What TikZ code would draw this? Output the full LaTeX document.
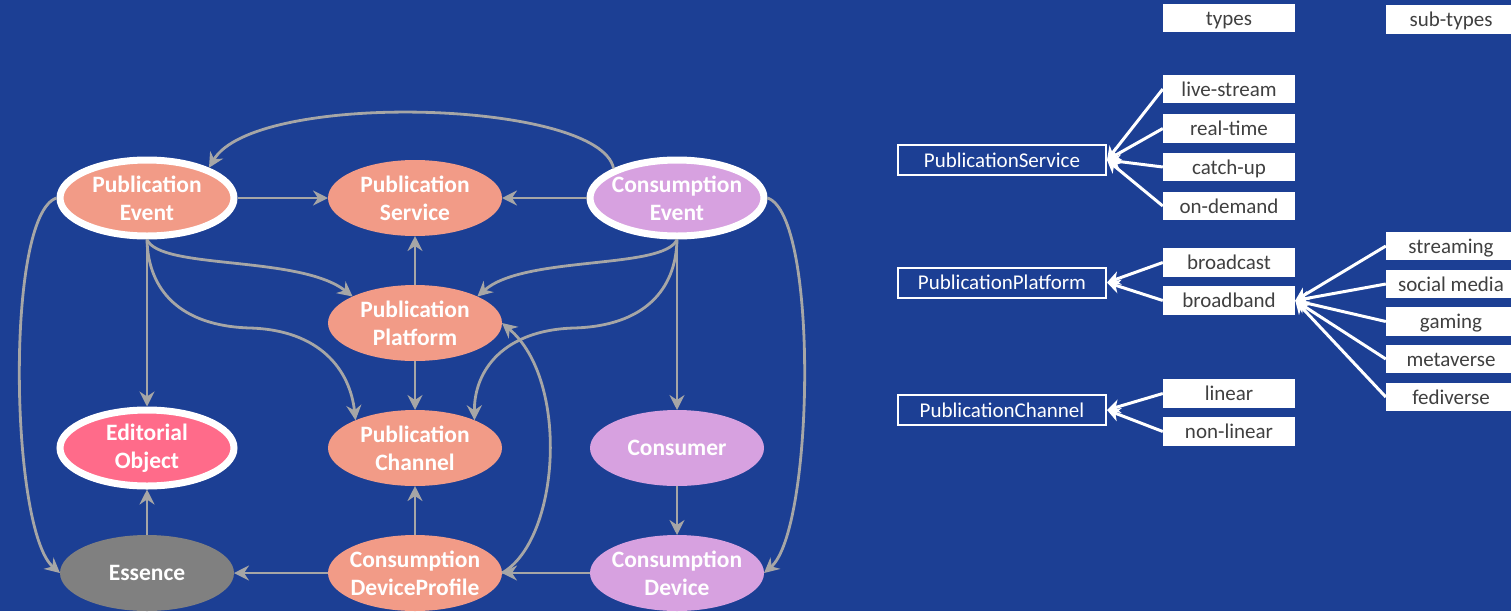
\documentclass[tikz,border=0pt]{standalone}
\usepackage{fontspec}
\setmainfont{Carlito}
\usetikzlibrary{arrows.meta,shapes.geometric}
\definecolor{bg}{RGB}{28,63,148}
\definecolor{salmon}{RGB}{242,155,135}
\definecolor{lav}{RGB}{215,161,224}
\definecolor{pinkc}{RGB}{255,107,138}
\definecolor{grayc}{RGB}{128,128,128}
\definecolor{edgec}{RGB}{166,166,166}
\definecolor{txtc}{RGB}{64,64,64}
\tikzset{
 ent/.style={ellipse, minimum width=174pt, minimum height=76pt, inner xsep=-25pt, inner ysep=-8pt, outer sep=0pt, text=white, align=center, font=\bfseries\fontsize{23.5}{28}\selectfont},
 ring/.style={draw=white, line width=7pt, outer sep=3.5pt},
 rel/.style={draw=edgec, line width=2.8pt, -{Stealth[length=15pt,width=15pt,inset=5pt]}},
 tbox/.style={fill=white, minimum width=132pt, minimum height=28.5pt, inner sep=0pt, text height=18pt, text depth=4pt, text=txtc, font=\fontsize{21}{24}\selectfont},
 sbox/.style={tbox, minimum width=130pt},
 cbox/.style={draw=white, line width=2pt, minimum width=208pt, minimum height=30pt, inner sep=0pt, text height=18pt, text depth=4pt, text=white, font=\fontsize{21}{24}\selectfont},
 warr/.style={draw=white, line width=3pt, -{Stealth[length=13pt,width=14pt,inset=4pt]}},
}
\begin{document}
\begin{tikzpicture}[x=1pt,y=1pt]
\fill[bg] (0,0) rectangle (1511,-611);
\useasboundingbox (0,0) rectangle (1511,-611);
% entities
\node[ent,ring,fill=salmon] (pe) at (147,-198) {Publication\\Event};
\node[ent,fill=salmon] (ps) at (415,-198) {Publication\\Service};
\node[ent,ring,fill=lav] (ce) at (677,-198) {Consumption\\Event};
\node[ent,fill=salmon] (pp) at (415,-323) {Publication\\Platform};
\node[ent,ring,fill=pinkc] (eo) at (147,-448) {Editorial\\Object};
\node[ent,fill=salmon] (pc) at (415,-448) {Publication\\Channel};
\node[ent,fill=lav] (cons) at (677,-448) {Consumer};
\node[ent,fill=grayc] (ess) at (147,-573) {Essence};
\node[ent,fill=salmon] (cdp) at (415,-573) {Consumption\\DeviceProfile};
\node[ent,fill=lav] (cd) at (677,-573) {Consumption\\Device};
% relations
\draw[rel] (ce.155) .. controls (600,-100) and (255,-90) .. (pe.26);
\draw[rel] (pe) -- (ps);
\draw[rel] (ce) -- (ps);
\draw[rel] (pp) -- (ps);
\draw[rel] (pe) -- (eo);
\draw[rel] (pe.south) .. controls (160,-270) and (300,-255) .. (pp.157);
\draw[rel] (pe.south) .. controls (148,-290) and (180,-326) .. (250,-328) .. controls (320,-330) and (350,-370) .. (pc.155);
\draw[rel] (ce.south) .. controls (664,-270) and (524,-255) .. (pp.23);
\draw[rel] (ce.south) .. controls (676,-290) and (644,-326) .. (574,-328) .. controls (504,-330) and (474,-370) .. (pc.25);
\draw[rel] (ce) -- (cons);
\draw[rel] (pp) -- (pc);
\draw[rel] (cons) -- (cd);
\draw[rel] (cd) -- (cdp);
\draw[rel] (cdp) -- (ess);
\draw[rel] (cdp) -- (pc);
\draw[rel] (ess) -- (eo);
\draw[rel] (pe.west) .. controls (5,-215) and (10,-530) .. (ess.west);
\draw[rel] (ce.east) .. controls (819,-215) and (814,-530) .. (cd.east);
\draw[rel] (cdp.east) .. controls (560,-540) and (570,-380) .. (pp.east);
% legend headers
\node[tbox] (types) at (1229,-18) {types};
\node[sbox] (subtypes) at (1451,-19.5) {sub-types};
% publication service
\node[cbox] (psv) at (1002,-160) {PublicationService};
\node[tbox] (ls) at (1229,-89) {live-stream};
\node[tbox] (rt) at (1229,-128.5) {real-time};
\node[tbox] (cu) at (1229,-167) {catch-up};
\node[tbox] (od) at (1229,-206) {on-demand};
\foreach \n in {ls,rt,cu,od} \draw[warr] (\n.west) -- (psv.east);
% publication platform
\node[cbox] (ppl) at (1002,-282.5) {PublicationPlatform};
\node[tbox] (bc) at (1229,-262.5) {broadcast};
\node[tbox] (bb) at (1229,-300.5) {broadband};
\foreach \n in {bc,bb} \draw[warr] (\n.west) -- (ppl.east);
\node[sbox] (st) at (1451,-246) {streaming};
\node[sbox] (sm) at (1451,-284) {social media};
\node[sbox] (gm) at (1451,-321.5) {gaming};
\node[sbox] (mv) at (1451,-359) {metaverse};
\node[sbox] (fv) at (1451,-397) {fediverse};
\foreach \n in {st,sm,gm,mv,fv} \draw[warr] (\n.west) -- (bb.east);
% publication channel
\node[cbox] (pch) at (1002,-410) {PublicationChannel};
\node[tbox] (li) at (1229,-393.5) {linear};
\node[tbox] (nl) at (1229,-431.5) {non-linear};
\foreach \n in {li,nl} \draw[warr] (\n.west) -- (pch.east);
\end{tikzpicture}
\end{document}
